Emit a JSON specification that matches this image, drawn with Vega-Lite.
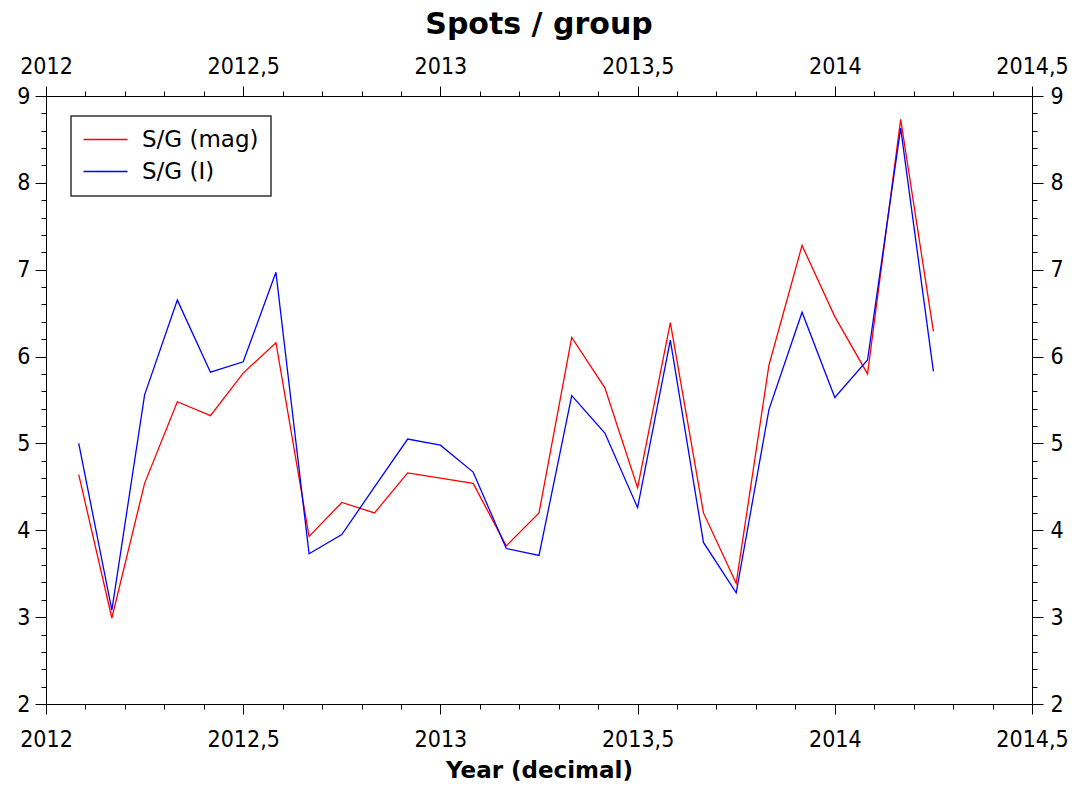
{
  "$schema": "https://vega.github.io/schema/vega-lite/v6.json",
  "width": 986,
  "height": 608,
  "autosize": "none",
  "padding": {"left": 46, "top": 96, "right": 45, "bottom": 85},
  "background": "white",
  "title": {"text": "Spots / group", "font": "DejaVu Sans", "fontSize": 30, "fontWeight": "bold", "color": "black", "anchor": "middle", "baseline": "alphabetic", "offset": 22, "dy": 31},
  "config": {
    "view": {"stroke": null},
    "axis": {"grid": false, "domainColor": "black", "domainWidth": 1, "tickColor": "black", "tickWidth": 1, "labelColor": "black", "labelFont": "DejaVu Sans Condensed, DejaVu Sans", "labelFontSize": 23, "titleColor": "black"}
  },
  "data": {"values": [
    {"t": 2012.083, "s": "S/G (mag)", "v": 4.64}, {"t": 2012.083, "s": "S/G (I)", "v": 5.00},
    {"t": 2012.167, "s": "S/G (mag)", "v": 2.99}, {"t": 2012.167, "s": "S/G (I)", "v": 3.08},
    {"t": 2012.25, "s": "S/G (mag)", "v": 4.54}, {"t": 2012.25, "s": "S/G (I)", "v": 5.56},
    {"t": 2012.333, "s": "S/G (mag)", "v": 5.48}, {"t": 2012.333, "s": "S/G (I)", "v": 6.65},
    {"t": 2012.417, "s": "S/G (mag)", "v": 5.32}, {"t": 2012.417, "s": "S/G (I)", "v": 5.82},
    {"t": 2012.5, "s": "S/G (mag)", "v": 5.81}, {"t": 2012.5, "s": "S/G (I)", "v": 5.94},
    {"t": 2012.583, "s": "S/G (mag)", "v": 6.16}, {"t": 2012.583, "s": "S/G (I)", "v": 6.97},
    {"t": 2012.667, "s": "S/G (mag)", "v": 3.93}, {"t": 2012.667, "s": "S/G (I)", "v": 3.73},
    {"t": 2012.75, "s": "S/G (mag)", "v": 4.32}, {"t": 2012.75, "s": "S/G (I)", "v": 3.95},
    {"t": 2012.833, "s": "S/G (mag)", "v": 4.20}, {"t": 2012.833, "s": "S/G (I)", "v": 4.50},
    {"t": 2012.917, "s": "S/G (mag)", "v": 4.66}, {"t": 2012.917, "s": "S/G (I)", "v": 5.05},
    {"t": 2013.0, "s": "S/G (mag)", "v": 4.60}, {"t": 2013.0, "s": "S/G (I)", "v": 4.98},
    {"t": 2013.083, "s": "S/G (mag)", "v": 4.54}, {"t": 2013.083, "s": "S/G (I)", "v": 4.67},
    {"t": 2013.167, "s": "S/G (mag)", "v": 3.82}, {"t": 2013.167, "s": "S/G (I)", "v": 3.79},
    {"t": 2013.25, "s": "S/G (mag)", "v": 4.20}, {"t": 2013.25, "s": "S/G (I)", "v": 3.71},
    {"t": 2013.333, "s": "S/G (mag)", "v": 6.22}, {"t": 2013.333, "s": "S/G (I)", "v": 5.55},
    {"t": 2013.417, "s": "S/G (mag)", "v": 5.64}, {"t": 2013.417, "s": "S/G (I)", "v": 5.12},
    {"t": 2013.5, "s": "S/G (mag)", "v": 4.49}, {"t": 2013.5, "s": "S/G (I)", "v": 4.26},
    {"t": 2013.583, "s": "S/G (mag)", "v": 6.39}, {"t": 2013.583, "s": "S/G (I)", "v": 6.19},
    {"t": 2013.667, "s": "S/G (mag)", "v": 4.20}, {"t": 2013.667, "s": "S/G (I)", "v": 3.86},
    {"t": 2013.75, "s": "S/G (mag)", "v": 3.39}, {"t": 2013.75, "s": "S/G (I)", "v": 3.28},
    {"t": 2013.833, "s": "S/G (mag)", "v": 5.90}, {"t": 2013.833, "s": "S/G (I)", "v": 5.39},
    {"t": 2013.917, "s": "S/G (mag)", "v": 7.28}, {"t": 2013.917, "s": "S/G (I)", "v": 6.51},
    {"t": 2014.0, "s": "S/G (mag)", "v": 6.46}, {"t": 2014.0, "s": "S/G (I)", "v": 5.53},
    {"t": 2014.083, "s": "S/G (mag)", "v": 5.80}, {"t": 2014.083, "s": "S/G (I)", "v": 5.96},
    {"t": 2014.167, "s": "S/G (mag)", "v": 8.73}, {"t": 2014.167, "s": "S/G (I)", "v": 8.63},
    {"t": 2014.25, "s": "S/G (mag)", "v": 6.29}, {"t": 2014.25, "s": "S/G (I)", "v": 5.83}
  ]},
  "resolve": {"axis": {"x": "independent", "y": "independent"}},
  "layer": [
    {
      "mark": {"type": "line", "strokeWidth": 1.3},
      "encoding": {
        "x": {"field": "t", "type": "quantitative", "scale": {"domain": [2012, 2014.5], "nice": false, "zero": false},
          "axis": {"orient": "bottom", "values": [2012, 2012.5, 2013, 2013.5, 2014, 2014.5], "tickSize": 10, "labelPadding": 14, "labelExpr": "replace(toString(datum.value), '.', ',')", "labelFlush": false, "title": "Year (decimal)", "titleFont": "DejaVu Sans", "titleFontSize": 23, "titleFontWeight": "bold", "titlePadding": 8}},
        "y": {"field": "v", "type": "quantitative", "scale": {"domain": [2, 9], "nice": false, "zero": false},
          "axis": {"orient": "left", "values": [2, 3, 4, 5, 6, 7, 8, 9], "tickSize": 11, "labelPadding": 5, "title": null}},
        "color": {"field": "s", "type": "nominal", "scale": {"domain": ["S/G (mag)", "S/G (I)"], "range": ["#ff0000", "#0000ff"]},
          "legend": {"orient": "none", "legendX": 25, "legendY": 20, "title": null, "strokeColor": "#333333", "fillColor": "white", "padding": 12, "labelFont": "DejaVu Sans", "labelFontSize": 23, "labelColor": "black", "symbolType": "M-2,0H6", "symbolSize": 121, "symbolStrokeWidth": 1.3, "labelOffset": 36, "rowPadding": 8,
            "encode": {"legend": {"update": {"strokeWidth": {"value": 1.5}}}}}}
      }
    },
    {
      "mark": {"type": "point", "opacity": 0},
      "encoding": {
        "x": {"field": "t", "type": "quantitative", "scale": {"domain": [2012, 2014.5], "nice": false, "zero": false},
          "axis": {"orient": "top", "values": [2012, 2012.5, 2013, 2013.5, 2014, 2014.5], "tickSize": 10, "labelPadding": 8, "labelExpr": "replace(toString(datum.value), '.', ',')", "labelFlush": false, "title": null}},
        "y": {"field": "v", "type": "quantitative", "scale": {"domain": [2, 9], "nice": false, "zero": false},
          "axis": {"orient": "right", "values": [2, 3, 4, 5, 6, 7, 8, 9], "tickSize": 11, "labelPadding": 7, "title": null}}
      }
    },
    {
      "mark": {"type": "point", "opacity": 0},
      "encoding": {
        "x": {"field": "t", "type": "quantitative", "scale": {"domain": [2012, 2014.5], "nice": false, "zero": false},
          "axis": {"orient": "bottom", "values": [2012.1, 2012.2, 2012.3, 2012.4, 2012.6, 2012.7, 2012.8, 2012.9, 2013.1, 2013.2, 2013.3, 2013.4, 2013.6, 2013.7, 2013.8, 2013.9, 2014.1, 2014.2, 2014.3, 2014.4], "tickSize": 5, "labels": false, "domain": false, "title": null}},
        "y": {"field": "v", "type": "quantitative", "scale": {"domain": [2, 9], "nice": false, "zero": false},
          "axis": {"orient": "left", "values": [2.2, 2.4, 2.6, 2.8, 3.2, 3.4, 3.6, 3.8, 4.2, 4.4, 4.6, 4.8, 5.2, 5.4, 5.6, 5.8, 6.2, 6.4, 6.6, 6.8, 7.2, 7.4, 7.6, 7.8, 8.2, 8.4, 8.6, 8.8], "tickSize": 5, "labels": false, "domain": false, "title": null}}
      }
    },
    {
      "mark": {"type": "point", "opacity": 0},
      "encoding": {
        "x": {"field": "t", "type": "quantitative", "scale": {"domain": [2012, 2014.5], "nice": false, "zero": false},
          "axis": {"orient": "top", "values": [2012.1, 2012.2, 2012.3, 2012.4, 2012.6, 2012.7, 2012.8, 2012.9, 2013.1, 2013.2, 2013.3, 2013.4, 2013.6, 2013.7, 2013.8, 2013.9, 2014.1, 2014.2, 2014.3, 2014.4], "tickSize": 5, "labels": false, "domain": false, "title": null}},
        "y": {"field": "v", "type": "quantitative", "scale": {"domain": [2, 9], "nice": false, "zero": false},
          "axis": {"orient": "right", "values": [2.2, 2.4, 2.6, 2.8, 3.2, 3.4, 3.6, 3.8, 4.2, 4.4, 4.6, 4.8, 5.2, 5.4, 5.6, 5.8, 6.2, 6.4, 6.6, 6.8, 7.2, 7.4, 7.6, 7.8, 8.2, 8.4, 8.6, 8.8], "tickSize": 5, "labels": false, "domain": false, "title": null}}
      }
    }
  ]
}
